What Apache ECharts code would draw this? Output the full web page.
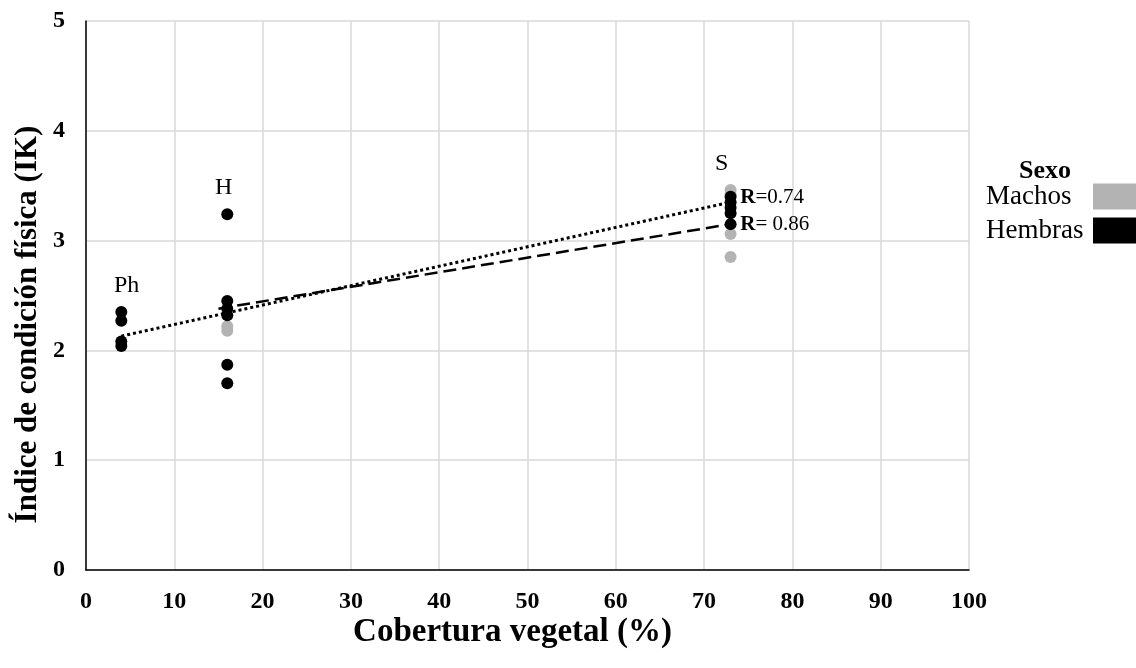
<!DOCTYPE html>
<html>
<head>
<meta charset="utf-8">
<script src="https://cdn.jsdelivr.net/npm/echarts@6/dist/echarts.min.js"></script>
<style>
  html, body { margin: 0; padding: 0; background: #fff; }
  #chart { width: 1136px; height: 668px; }
</style>
</head>
<body>
<div id="chart"></div>
<script>
// cobertura vegetal (%) , indice IK
var hembras = [
  [4, 2.35], [4, 2.27], [4, 2.08], [4, 2.04],
  [16, 3.24], [16, 2.45], [16, 2.38], [16, 2.32], [16, 1.87], [16, 1.70],
  [73, 3.40], [73, 3.35], [73, 3.30], [73, 3.25], [73, 3.15]
]
var machos = [
  [16, 2.22], [16, 2.18],
  [73, 3.46], [73, 3.42], [73, 3.06], [73, 2.85]
]
// lineas de tendencia (extremos)
var tendPunteada = [[4, 2.13], [73, 3.35]]
var tendDiscontinua = [[15, 2.38], [73, 3.15]]
// etiquetas de sitio y coeficientes
var sitios = [['Ph', 4.6, 2.59], ['H', 15.6, 3.48], ['S', 72.0, 3.70]]
var coefs = [['0.74', '=', 74.1, 3.39], ['0.86', '= ', 74.1, 3.15]]

var serif = '"Liberation Serif", "DejaVu Serif", serif'
var chart = echarts.init(document.getElementById('chart'))

var options = {
  animation: false,
  textStyle: { fontFamily: serif },
  grid: { left: 86, right: 167, top: 21, bottom: 98, containLabel: false, outerBoundsMode: 'none' },
  title: {
    text: 'Sexo', left: 1014, top: 153,
    textStyle: { fontFamily: serif, fontWeight: 'bold', fontSize: 26, color: '#000' }
  },
  legend: {
    data: ['Machos', 'Hembras'],
    orient: 'vertical', right: 0, top: 183, align: 'right', padding: 0,
    icon: 'rect', itemWidth: 43, itemHeight: 26, itemGap: 7,
    formatter: '{t|{name}}',
    textStyle: {
      fontFamily: serif, fontSize: 27, color: '#000',
      rich: { t: { fontFamily: serif, fontSize: 27, color: '#000', width: 102, align: 'left' } }
    }
  },
  xAxis: {
    type: 'value', min: 0, max: 100, interval: 10,
    name: 'Cobertura vegetal (%)', nameLocation: 'middle', nameGap: 46, nameMoveOverlap: false,
    nameTextStyle: { fontFamily: serif, fontWeight: 'bold', fontSize: 33, color: '#000', padding: [0, 30, 0, 0] },
    axisLine: { onZero: false, lineStyle: { color: '#000', width: 1.5 } },
    axisTick: { show: false },
    axisLabel: { margin: 20, fontFamily: serif, fontWeight: 'bold', fontSize: 24, color: '#000' },
    splitLine: { show: true, lineStyle: { color: '#d9d9d9', width: 1.5 } }
  },
  yAxis: {
    type: 'value', min: 0, max: 5, interval: 1,
    name: 'Índice de condición física (IK)', nameLocation: 'middle', nameGap: 43, nameMoveOverlap: false,
    nameTextStyle: { fontFamily: serif, fontWeight: 'bold', fontSize: 31, color: '#000', padding: [0, 58, 0, 0] },
    axisLine: { show: true, lineStyle: { color: '#000', width: 1.5 } },
    axisTick: { show: false },
    axisLabel: { margin: 21, fontFamily: serif, fontWeight: 'bold', fontSize: 24, color: '#000' },
    splitLine: { show: true, lineStyle: { color: '#d9d9d9', width: 1.5 } }
  },
  series: [
    {
      name: 'Machos', type: 'scatter', data: machos, symbolSize: 12,
      itemStyle: { color: '#b3b3b3', opacity: 1 }
    },
    {
      name: 'Hembras', type: 'scatter', data: hembras, symbolSize: 12,
      itemStyle: { color: '#000', opacity: 1 }
    },
    {
      name: 'tend1', type: 'line', data: tendPunteada, symbol: 'none', z: 3,
      lineStyle: { color: '#000', width: 3, type: [3, 3] }
    },
    {
      name: 'tend2', type: 'line', data: tendDiscontinua, symbol: 'none', z: 3,
      lineStyle: { color: '#000', width: 2.5, type: [13, 6] }
    },
    {
      name: 'sitios', type: 'scatter', symbolSize: 0, z: 5,
      itemStyle: { opacity: 1 },
      data: sitios.map(function (s) { return { value: [s[1], s[2]], name: s[0] } }),
      label: {
        show: true, position: 'inside', formatter: '{b}',
        fontFamily: serif, fontSize: 24, color: '#000'
      }
    },
    {
      name: 'coefs', type: 'scatter', symbolSize: 0, z: 5,
      itemStyle: { opacity: 1 },
      data: coefs.map(function (c) { return { value: [c[2], c[3]], name: c[1] + c[0] } }),
      label: {
        show: true, position: 'right', distance: 0,
        formatter: function (p) { return '{r|R}{n|' + p.name + '}' },
        rich: {
          r: { fontFamily: serif, fontWeight: 'bold', fontSize: 21, color: '#000' },
          n: { fontFamily: serif, fontSize: 21, color: '#000' }
        }
      }
    }
  ]
}
chart.setOption(options)
</script>
</body>
</html>
